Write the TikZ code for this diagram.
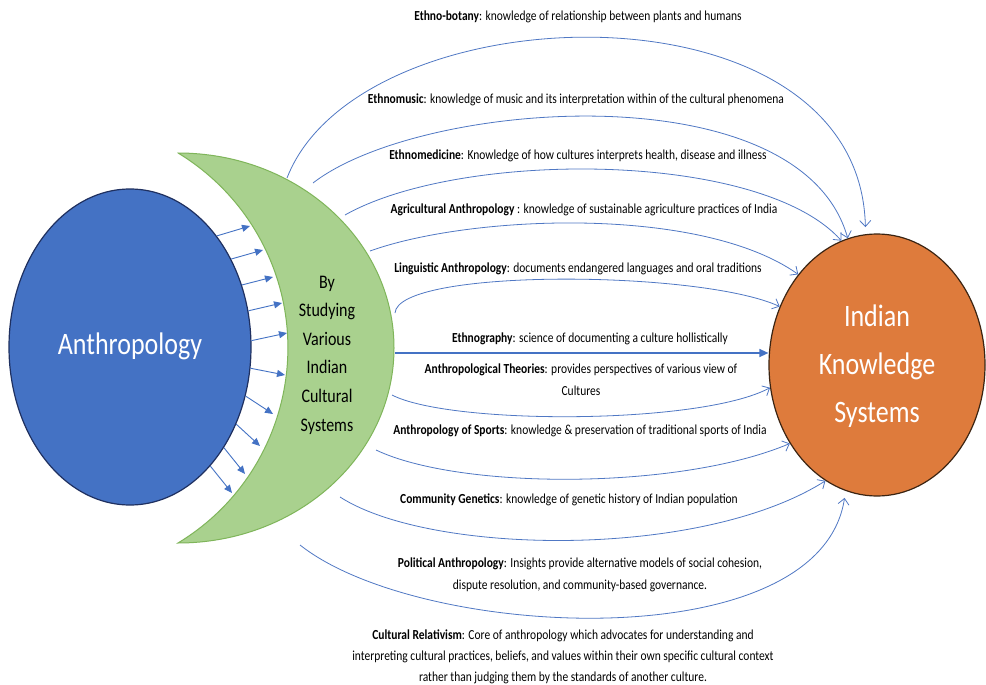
\documentclass[tikz,border=0pt]{standalone}
\usepackage{fontspec}
\usepackage{graphicx}
\setmainfont{Carlito}
\usetikzlibrary{arrows.meta,shapes.geometric}

\definecolor{anthblue}{HTML}{4472C4}
\definecolor{anthedge}{HTML}{1F3060}
\definecolor{iksorange}{HTML}{DE7B3C}
\definecolor{iksedge}{HTML}{3B2412}
\definecolor{moonfill}{HTML}{A9D18E}
\definecolor{moonedge}{HTML}{7FB55A}
\definecolor{linkblue}{HTML}{5078C4}

% text set a little taller than wide, one centred line per \\
\newcommand{\tallset}[1]{\scalebox{1}[1.2]{\begin{tabular}{@{}c@{}}#1\end{tabular}}}

\begin{document}
\begin{tikzpicture}[x=1pt,y=-1pt,
  hub/.style={ellipse, draw, line width=1.2pt, text=white, inner sep=0pt},
  feed/.style={draw=anthblue, line width=0.9pt, -{Triangle[length=8pt,width=7pt]}},
  link/.style={draw=linkblue, line width=0.8pt, -{Straight Barb[length=6pt,width=11pt]}},
  mainlink/.style={draw=anthblue, line width=1.4pt, -{Triangle[length=9pt,width=8pt]}},
  note/.style={font=\fontsize{11.5}{18.3}\selectfont, inner sep=0pt},
]
\useasboundingbox (0,0) rectangle (986,685);
\fill[white] (0,0) rectangle (986,685);

% crescent: outer half-ellipse and inner circular arc
\path[draw=moonedge, fill=moonfill, line width=1pt]
  (178,153) arc[start angle=-90, end angle=90, x radius=216, y radius=195]
  arc[start angle=58.8, end angle=-58.8, radius=228] -- cycle;
\node[font=\fontsize{16}{23.8}\selectfont, inner sep=0pt] (moon) at (327,354)
  {\tallset{By\\Studying\\Various\\Indian\\Cultural\\Systems}};

% the two hubs
\node[hub, fill=anthblue, draw=anthedge, minimum width=242pt, minimum height=316pt,
      font=\fontsize{26}{30}\selectfont] (anth) at (130,347) {\tallset{Anthropology}};
\node[hub, fill=iksorange, draw=iksedge, minimum width=216pt, minimum height=262pt,
      font=\fontsize{26}{39.6}\selectfont] (iks) at (877,365) {\tallset{Indian\\Knowledge\\Systems}};

% short arrows from Anthropology onto the crescent
\foreach \a/\tx/\ty [count=\i] in {52.6/250/226, 41.1/263/250, 29.1/273/277, 17.7/282/303,
    3.7/287/333, -10.1/285/375, -23/273/414, -36.5/260/446, -47.3/245/474, -56.3/232/493} {
  \coordinate (tip\i) at (\tx,\ty);
  \draw[feed] (anth.\a) -- (tip\i);
}

% labels
\node[note] (l1) at (578,16) {\tallset{\textbf{Ethno-botany}: knowledge of relationship between plants and humans}};
\node[note] (l2) at (576,99) {\tallset{\textbf{Ethnomusic}: knowledge of music and its interpretation within of the cultural phenomena}};
\node[note] (l3) at (578,155) {\tallset{\textbf{Ethnomedicine}: Knowledge of how cultures interprets health, disease and illness}};
\node[note] (l4) at (584,209) {\tallset{\textbf{Agricultural Anthropology} : knowledge of sustainable agriculture practices of India}};
\node[note] (l5) at (578,268) {\tallset{\textbf{Linguistic Anthropology}: documents endangered languages and oral traditions}};
\node[note] (l6) at (590,338) {\tallset{\textbf{Ethnography}: science of documenting a culture hollistically}};
\node[note] (l7) at (581,380) {\tallset{\textbf{Anthropological Theories}: provides perspectives of various view of\\Cultures}};
\node[note] (l8) at (580,430) {\tallset{\textbf{Anthropology of Sports}: knowledge \& preservation of traditional sports of India}};
\node[note] (l9) at (569,499) {\tallset{\textbf{Community Genetics}: knowledge of genetic history of Indian population}};
\node[note] (l10) at (580,574) {\tallset{\textbf{Political Anthropology}: Insights provide alternative models of social cohesion,\\dispute resolution, and community-based governance.}};
\node[note, font=\fontsize{11.5}{17.5}\selectfont] (l11) at (563,656) {\tallset{\textbf{Cultural Relativism}: Core of anthropology which advocates for understanding and\\interpreting cultural practices, beliefs, and values within their own specific cultural context\\rather than judging them by the standards of another culture.}};

% start points of the links on the crescent side
\coordinate (s1) at (287,178);
\coordinate (s2) at (313,183);
\coordinate (s3) at (345,215);
\coordinate (s4) at (370,251);
\coordinate (s5) at (395,313);
\coordinate (s6) at (395,353);
\coordinate (s7) at (392,395);
\coordinate (s8) at (376,450);
\coordinate (s9) at (340,497);
\coordinate (s10) at (300,545);

% links into Indian Knowledge Systems
\draw[link, shorten >=7pt] (s1) .. controls (360,-10) and (860,-25) .. (iks.95.3);
\draw[link] (s2) .. controls (420,100) and (800,70) .. (iks.103.2);
\draw[link] (s3) .. controls (460,150) and (760,150) .. (iks.106.2);
\draw[link] (s4) .. controls (470,215) and (700,205) .. (iks.131.3);
\draw[link] (s5) .. controls (398,268) and (700,270) .. (iks.149.4);
\draw[mainlink] (s6) -- (iks.west |- s6);
\draw[link] (s7) .. controls (450,425) and (700,425) .. (iks.192.9);
\draw[link] (s8) .. controls (460,490) and (680,490) .. (iks.222.9);
\draw[link] (s9) .. controls (430,555) and (700,560) .. (iks.246.1);
\draw[link, shorten >=7pt] (s10) .. controls (420,640) and (820,660) .. (iks.256.1);
\end{tikzpicture}
\end{document}
